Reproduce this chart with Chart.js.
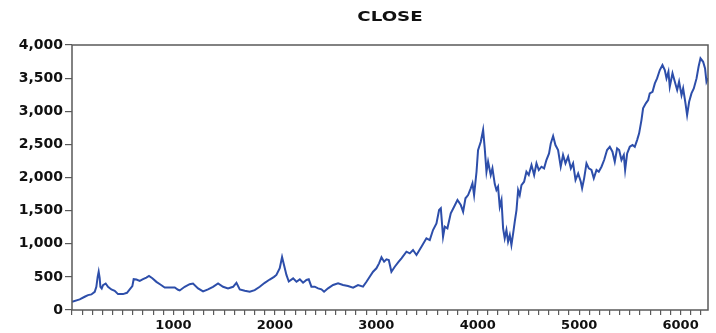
<!DOCTYPE html>
<html lang="en">
<head>
    <meta charset="UTF-8">
    <title>CLOSE</title>
    <script src="https://cdn.jsdelivr.net/npm/chart.js"></script>
    <style>
        body {
            margin: 0;
            background: #ffffff;
        }
        .wrap {
            width: 716px;
            height: 333px;
        }
    </style>
</head>
<body>
    <div class="wrap">
        <canvas id="closeChart" width="716" height="333"></canvas>
    </div>

<script>
    const obs = [1, 76, 125, 158, 191, 224, 240, 253, 263, 273, 280, 293, 306, 332, 355, 388, 421, 454, 503, 542,
        569, 595, 608, 635, 668, 700, 733, 759, 792, 832, 871, 914, 963, 1013, 1046, 1062, 1111, 1160, 1193, 1243,
        1292, 1341, 1390, 1440, 1489, 1538, 1588, 1621, 1654, 1703, 1752, 1801, 1851, 1900, 1949, 1992, 2015, 2048, 2071, 2090,
        2114, 2137, 2180, 2213, 2246, 2278, 2311, 2334, 2360, 2393, 2426, 2459, 2485, 2524, 2574, 2623, 2672, 2721, 2771, 2820,
        2869, 2903, 2935, 2968, 3001, 3027, 3051, 3077, 3100, 3123, 3149, 3182, 3221, 3248, 3297, 3330, 3362, 3396, 3445, 3494,
        3527, 3559, 3593, 3619, 3636, 3658, 3675, 3701, 3734, 3767, 3800, 3833, 3856, 3879, 3905, 3931, 3948, 3964, 3988, 4003,
        4030, 4053, 4069, 4086, 4102, 4128, 4145, 4168, 4184, 4200, 4217, 4234, 4250, 4266, 4283, 4299, 4316, 4332, 4349, 4365,
        4382, 4398, 4414, 4431, 4457, 4480, 4503, 4530, 4556, 4579, 4602, 4628, 4654, 4677, 4703, 4720, 4743, 4766, 4792, 4818,
        4841, 4865, 4891, 4918, 4940, 4964, 4990, 5016, 5029, 5049, 5072, 5095, 5121, 5144, 5171, 5193, 5220, 5246, 5275, 5302,
        5328, 5351, 5374, 5394, 5417, 5440, 5453, 5473, 5499, 5526, 5548, 5571, 5591, 5614, 5630, 5657, 5680, 5696, 5723, 5746,
        5768, 5795, 5821, 5844, 5861, 5880, 5893, 5920, 5943, 5966, 5985, 6009, 6025, 6048, 6064, 6084, 6107, 6130, 6157, 6177,
        6196, 6222, 6241, 6255, 6270];

    const closeVals = [125, 160, 200, 225, 235, 275, 350, 500, 578, 480, 350, 325, 375, 400, 350, 310, 290, 240, 240, 260,
        310, 360, 465, 460, 440, 465, 490, 515, 480, 425, 385, 340, 340, 340, 305, 295, 350, 390, 400, 325,
        280, 310, 350, 400, 350, 325, 350, 410, 310, 290, 275, 300, 350, 410, 460, 500, 530, 630, 800, 680,
        530, 430, 478, 427, 463, 412, 453, 463, 352, 352, 327, 312, 276, 327, 377, 402, 377, 362, 337, 377,
        352, 427, 503, 578, 629, 704, 795, 729, 765, 754, 578, 653, 729, 780, 880, 855, 905, 830, 955, 1082,
        1056, 1207, 1308, 1509, 1535, 1106, 1257, 1233, 1459, 1559, 1660, 1584, 1484, 1686, 1735, 1837, 1912, 1735, 2087, 2414,
        2540, 2720, 2440, 2087, 2238, 2037, 2138, 1900, 1811, 1861, 1559, 1660, 1233, 1082, 1207, 1031, 1132, 981, 1157, 1333,
        1509, 1811, 1735, 1886, 1936, 2087, 2037, 2188, 2037, 2213, 2113, 2163, 2138, 2264, 2364, 2515, 2626, 2490, 2414, 2163,
        2339, 2213, 2314, 2138, 2213, 1962, 2062, 1936, 1837, 1987, 2213, 2138, 2113, 1987, 2113, 2087, 2163, 2264, 2414, 2464,
        2389, 2238, 2440, 2414, 2264, 2339, 2113, 2364, 2464, 2490, 2464, 2565, 2666, 2867, 3044, 3119, 3169, 3270, 3294, 3421,
        3496, 3622, 3697, 3622, 3496, 3596, 3370, 3572, 3445, 3320, 3445, 3244, 3345, 3119, 2942, 3143, 3270, 3345, 3496, 3672,
        3798, 3747, 3647, 3445, 3500];

    const yTicks = [0, 500, 1000, 1500, 2000, 2500, 3000, 3500, 4000];
    const xLabels = [1000, 2000, 3000, 4000, 5000, 6000];

    const points = obs.map((o, i) => ({ x: o, y: closeVals[i] }));

    // box round the plot and the title centred over it
    const frame = {
        id: 'frame',
        afterDraw(chart) {
            const a = chart.chartArea;
            const c = chart.ctx;
            c.save();
            c.strokeStyle = '#5a5a5a';
            c.lineWidth = 1.5;
            c.strokeRect(a.left, a.top, a.right - a.left, a.bottom - a.top);
            c.fillStyle = '#111';
            c.font = 'bold 14px "DejaVu Sans"';
            c.textAlign = 'center';
            c.textBaseline = 'middle';
            c.translate((a.left + a.right) / 2, 17);
            c.scale(1.3, 1);
            c.fillText('CLOSE', 0, 0);
            c.restore();
        }
    };

    new Chart(document.getElementById('closeChart'), {
        type: 'line',
        data: {
            datasets: [{
                label: 'CLOSE',
                data: points,
                borderColor: '#2d4eaa',
                borderWidth: 2,
                pointRadius: 0,
                tension: 0,
                fill: false
            }]
        },
        options: {
            responsive: false,
            animation: false,
            layout: { padding: { top: 45, right: 8, left: 0, bottom: 0 } },
            plugins: {
                legend: { display: false },
                title: { display: false },
                tooltip: { enabled: false }
            },
            scales: {
                x: {
                    type: 'linear',
                    min: 0,
                    max: 6270,
                    border: { display: false },
                    grid: { drawOnChartArea: false, tickLength: 5, color: '#5a5a5a', lineWidth: 1.2 },
                    ticks: {
                        stepSize: 100,
                        autoSkip: false,
                        includeBounds: false,
                        maxRotation: 0,
                        padding: 3,
                        color: '#111',
                        font: { family: 'DejaVu Sans', weight: 'bold', size: 13 },
                        callback: v => xLabels.includes(v) ? String(v) : ''
                    },
                    afterFit: s => { s.height = 23; }
                },
                y: {
                    min: 0,
                    max: 4000,
                    border: { display: false },
                    afterBuildTicks: s => { s.ticks = yTicks.map(v => ({ value: v })); },
                    grid: { drawOnChartArea: false, tickLength: 7, color: '#5a5a5a', lineWidth: 1.2 },
                    ticks: {
                        padding: 2,
                        color: '#111',
                        font: { family: 'DejaVu Sans', weight: 'bold', size: 14 },
                        callback: v => v.toLocaleString('en-US')
                    },
                    afterFit: s => { s.width = 72; }
                }
            }
        },
        plugins: [frame]
    });
</script>
</body>
</html>
